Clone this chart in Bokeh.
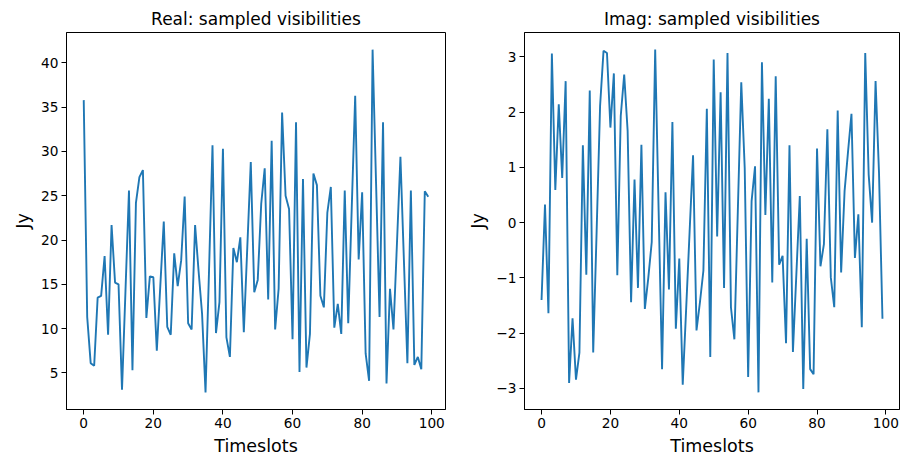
from bokeh.plotting import figure
from bokeh.layouts import row
from bokeh.models import FixedTicker, Range1d
from bokeh.embed import file_html
from bokeh.resources import INLINE

timeslots = list(range(100))

real_vals = [
    35.8, 11.3, 6.1, 5.8, 13.5, 13.7, 18.2, 9.3, 21.7, 15.2,
    15.0, 3.1, 14.3, 25.6, 5.3, 24.2, 27.1, 27.9, 11.2, 15.9,
    15.8, 7.5, 14.8, 22.1, 10.2, 9.3, 18.5, 14.8, 17.7, 24.9,
    10.6, 9.9, 21.7, 16.5, 11.7, 2.8, 16.5, 30.7, 9.5, 13.0,
    30.3, 9.0, 6.8, 19.1, 17.5, 20.3, 9.6, 19.2, 28.8, 14.1,
    15.5, 24.1, 28.1, 13.3, 31.2, 9.9, 14.5, 34.4, 25.0, 23.5,
    8.8, 33.3, 5.1, 26.9, 5.6, 9.4, 27.5, 26.2, 13.7, 12.4,
    23.1, 26.0, 10.1, 12.8, 9.4, 25.6, 10.6, 23.5, 36.3, 17.8,
    25.4, 7.2, 4.1, 41.5, 26.4, 11.3, 33.3, 3.8, 14.5, 9.9,
    19.6, 29.4, 17.7, 6.1, 25.6, 5.9, 6.8, 5.4, 25.5, 24.9,
]

imag_vals = [
    -1.40, 0.33, -1.64, 3.06, 0.59, 2.14, 0.81, 2.56, -2.90, -1.73,
    -2.84, -2.35, 1.40, -0.94, 2.39, -2.35, -0.15, 2.11, 3.11, 3.07,
    1.72, 2.70, -0.95, 1.93, 2.68, 1.66, -1.44, 0.78, -1.18, 1.41,
    -1.56, -1.00, -0.35, 3.13, 0.22, -2.65, 0.55, -1.21, 1.82, -1.92,
    -0.65, -2.93, -1.55, -0.16, 1.22, -1.95, -1.44, -0.87, 2.06, -2.43,
    2.95, -0.25, 2.36, -1.18, 3.07, -1.53, -2.11, 0.21, 2.54, 0.99,
    -2.79, 0.39, 1.02, -3.07, 2.90, 0.14, 2.24, -1.08, 2.65, -0.76,
    -0.60, -2.18, 1.40, -2.34, -0.93, 0.48, -3.01, -0.29, -2.65, -2.74,
    1.34, -0.79, -0.39, 1.69, -0.99, -1.53, 2.03, -0.90, 0.57, 1.28,
    1.97, -0.64, 0.15, -1.89, 3.07, 0.87, 0.00, 2.56, 0.90, -1.74,
]

x_ticks = [0, 20, 40, 60, 80, 100]
real_y_ticks = [5, 10, 15, 20, 25, 30, 35, 40]
imag_y_ticks = [-3, -2, -1, 0, 1, 2, 3]

titles = ["Real: sampled visibilities", "Imag: sampled visibilities"]
x_label = "Timeslots"
y_label = "Jy"

LINE = "#1f77b4"
FONT = "DejaVu Sans"


def padded(vals):
    lo, hi = min(vals), max(vals)
    pad = (hi - lo) * 0.05
    return Range1d(lo - pad, hi + pad)


def make(vals, yticks, title, width, bl, br):
    p = figure(width=width, height=458, output_backend="svg",
               toolbar_location=None, x_range=padded(timeslots),
               y_range=padded(vals),
               min_border_left=bl, min_border_right=br,
               min_border_top=32, min_border_bottom=49)
    p.line(timeslots, vals, line_color=LINE, line_width=1.9)
    p.title.text = title
    p.title.align = "center"
    p.title.text_font = FONT
    p.title.text_font_size = "17px"
    p.title.text_font_style = "normal"
    p.title.text_color = "#000000"
    p.title.standoff = 7
    p.grid.visible = False
    p.outline_line_color = "#000000"
    p.outline_line_width = 1
    p.background_fill_color = "white"
    p.border_fill_color = "white"
    p.xaxis.ticker = FixedTicker(ticks=x_ticks)
    p.yaxis.ticker = FixedTicker(ticks=yticks)
    p.yaxis.major_label_overrides = {t: ("\u2212" + str(-t)) for t in yticks if t < 0}
    for ax in (p.xaxis[0], p.yaxis[0]):
        ax.axis_line_color = "#000000"
        ax.major_tick_line_color = "#000000"
        ax.major_tick_out = 5
        ax.major_tick_in = 0
        ax.minor_tick_line_color = None
        ax.major_label_text_font = FONT
        ax.major_label_text_font_size = "13.7px"
        ax.major_label_text_color = "#000000"
        ax.major_label_standoff = 3
        ax.axis_label_text_font = FONT
        ax.axis_label_text_font_size = "17.5px"
        ax.axis_label_text_font_style = "normal"
        ax.axis_label_text_color = "#000000"
        ax.axis_label_standoff = 5
    p.xaxis.axis_label = x_label
    p.yaxis.axis_label = y_label
    return p


p1 = make(real_vals, real_y_ticks, titles[0], 465, 66, 20)
p2 = make(imag_vals, imag_y_ticks, titles[1], 435, 56, 1)

layout = row(p1, p2)
open("out.html", "w").write(file_html(layout, INLINE))
